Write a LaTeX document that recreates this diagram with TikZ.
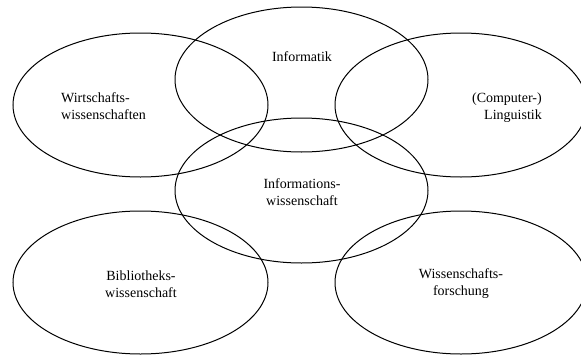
\documentclass[tikz,border=0pt]{standalone}
\usepackage{fontspec}
\setmainfont{Liberation Serif}
\usetikzlibrary{shapes.geometric}
\begin{document}
\begin{tikzpicture}[x=1pt,y=-1pt,
  field/.style={draw=black, line width=1pt, ellipse, inner sep=0pt, outer sep=0pt},
  lbl/.style={font=\fontsize{14}{17}\selectfont, inner sep=0pt}]
\useasboundingbox (0,0) rectangle (581,356);
\clip (0,0) rectangle (581,356);
\node[field, minimum width=255pt, minimum height=144pt] (wiwi) at (140.5,105) {};
\node[field, minimum width=253pt, minimum height=145pt] (info) at (301.5,79.5) {};
\node[field, minimum width=252pt, minimum height=144pt] (ling) at (461,105) {};
\node[field, minimum width=253pt, minimum height=145pt] (iw) at (301.5,190.5) {};
\node[field, minimum width=255pt, minimum height=143pt] (bib) at (140.5,282.5) {};
\node[field, minimum width=252pt, minimum height=143pt] (wf) at (461,282.5) {};
\node[lbl] (tinfo) at (302,57) {Informatik};
\node[lbl, anchor=west, align=left] (twiwi) at (61,106) {Wirtschafts-\\wissenschaften};
\node[lbl, anchor=east, align=right] (tling) at (542,108) {(Computer-)\\Linguistik};
\node[lbl, align=center] (tiw) at (302,192) {Informations-\\wissenschaft};
\node[lbl, align=center] (tbib) at (141,284) {Bibliotheks-\\wissenschaft};
\node[lbl, align=center] (twf) at (461,284) {Wissenschafts-\\forschung};
\end{tikzpicture}
\end{document}
